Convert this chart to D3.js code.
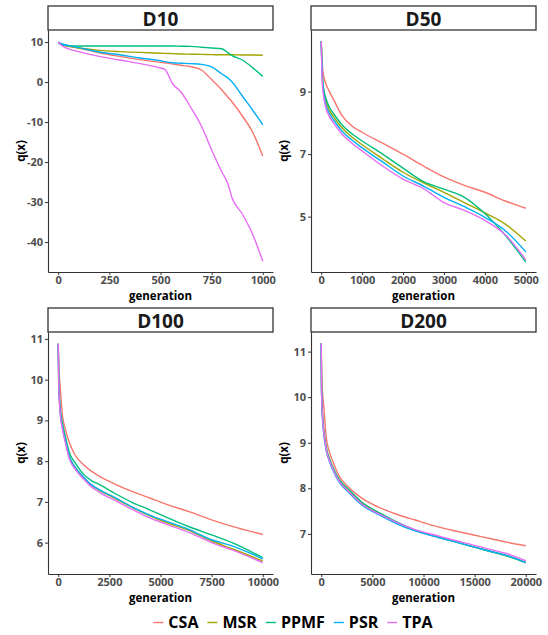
<!DOCTYPE html>
<html>
<head>
<meta charset="utf-8">
<script src="https://cdn.jsdelivr.net/npm/d3@7"></script>
<style>
  body { margin: 0; background: #fff; }
  text { font-family: 'Open Sans', sans-serif; }
</style>
</head>
<body>
<svg id="chart" width="548" height="635"></svg>
<script>
const methods = ['CSA', 'MSR', 'PPMF', 'PSR', 'TPA']
const colors = ['#F8766D', '#A3A500', '#00BF7D', '#00B0F6', '#E76BF3']

// D10
const d10Gen = [0, 20, 50, 100, 200, 300, 400, 500, 520, 560, 600, 650, 700, 750, 800, 830, 850, 900, 950, 1000]
const d10CSA = [9.8, 9.4, 9.0, 8.5, 7.3, 6.4, 5.6, 4.9, 4.8, 4.5, 4.2, 3.8, 3.0, 0.6, -2.0, -3.8, -5.0, -8.5, -12.5, -18.5]
const d10MSR = [9.8, 9.3, 8.9, 8.5, 7.9, 7.6, 7.4, 7.2, 7.15, 7.1, 7.0, 6.95, 6.9, 6.85, 6.8, 6.8, 6.8, 6.75, 6.75, 6.7]
const d10PPMF = [9.8, 9.3, 9.1, 9.0, 9.0, 9.0, 9.0, 9.0, 9.0, 9.0, 8.95, 8.9, 8.7, 8.5, 8.3, 7.3, 6.6, 5.5, 3.6, 1.4]
const d10PSR = [10, 9.5, 9.1, 8.6, 7.5, 6.8, 6.0, 5.3, 5.1, 4.8, 4.7, 4.6, 4.4, 3.8, 2.0, 1.0, 0, -3.5, -7.0, -10.7]
const d10TPA = [10, 9.0, 8.3, 7.6, 6.4, 5.5, 4.6, 3.5, 3.2, -0.5, -2.5, -6.5, -11, -17, -22.5, -25.5, -29, -33, -38, -44.8]

// D50
const d50Gen = [0, 30, 60, 100, 200, 300, 500, 750, 1000, 1500, 2000, 2500, 3000, 3500, 4000, 4500, 5000]
const d50CSA = [10.6, 9.8, 9.5, 9.3, 9.0, 8.75, 8.25, 7.9, 7.7, 7.35, 7.0, 6.62, 6.27, 6.0, 5.78, 5.5, 5.27]
const d50MSR = [10.6, 9.4, 9.0, 8.75, 8.4, 8.2, 7.85, 7.55, 7.3, 6.85, 6.42, 6.08, 5.78, 5.45, 5.12, 4.76, 4.22]
const d50PPMF = [10.6, 9.5, 9.1, 8.85, 8.5, 8.3, 7.95, 7.65, 7.42, 7.0, 6.55, 6.12, 5.88, 5.62, 5.1, 4.4, 3.55]
const d50PSR = [10.6, 9.3, 8.95, 8.65, 8.3, 8.1, 7.75, 7.45, 7.2, 6.75, 6.3, 5.98, 5.62, 5.32, 4.98, 4.55, 3.88]
const d50TPA = [10.6, 9.2, 8.85, 8.55, 8.2, 8.0, 7.65, 7.35, 7.1, 6.62, 6.2, 5.9, 5.45, 5.2, 4.88, 4.42, 3.62]

// D100
const d100Gen = [0, 25, 100, 200, 350, 550, 800, 1200, 1600, 2000, 2800, 3600, 4500, 5300, 6400, 7500, 8500, 10000]
const d100CSA = [10.88, 10.4, 9.8, 9.15, 8.78, 8.45, 8.17, 7.93, 7.76, 7.63, 7.43, 7.26, 7.09, 6.94, 6.76, 6.56, 6.4, 6.2]
const d100MSR = [10.88, 9.9, 9.2, 8.85, 8.5, 8.1, 7.87, 7.62, 7.42, 7.29, 7.08, 6.87, 6.65, 6.49, 6.3, 6.04, 5.85, 5.55]
const d100PPMF = [10.88, 10.0, 9.3, 8.95, 8.6, 8.2, 7.98, 7.7, 7.53, 7.43, 7.2, 6.99, 6.8, 6.62, 6.39, 6.19, 6.0, 5.63]
const d100PSR = [10.88, 9.9, 9.2, 8.85, 8.5, 8.1, 7.87, 7.63, 7.43, 7.3, 7.1, 6.88, 6.67, 6.52, 6.32, 6.07, 5.92, 5.6]
const d100TPA = [10.88, 9.85, 9.15, 8.8, 8.45, 8.05, 7.82, 7.58, 7.38, 7.24, 7.03, 6.82, 6.6, 6.45, 6.25, 6.0, 5.82, 5.51]

// D200
const d200Gen = [0, 30, 100, 250, 500, 800, 1200, 1800, 2600, 4000, 5900, 7500, 9100, 11500, 13000, 14800, 16500, 18100, 20000]
const d200CSA = [11.18, 10.7, 10.2, 9.8, 9.1, 8.8, 8.55, 8.25, 8.04, 7.78, 7.56, 7.42, 7.31, 7.15, 7.07, 6.98, 6.9, 6.82, 6.74]
const d200MSR = [11.18, 10.2, 9.7, 9.26, 8.87, 8.64, 8.42, 8.17, 7.98, 7.68, 7.43, 7.24, 7.09, 6.93, 6.84, 6.72, 6.62, 6.52, 6.37]
const d200PPMF = [11.18, 10.2, 9.72, 9.27, 8.88, 8.65, 8.43, 8.18, 7.99, 7.69, 7.44, 7.25, 7.09, 6.92, 6.83, 6.72, 6.62, 6.52, 6.37]
const d200PSR = [11.18, 10.15, 9.65, 9.2, 8.82, 8.59, 8.37, 8.12, 7.93, 7.63, 7.39, 7.21, 7.07, 6.92, 6.83, 6.72, 6.62, 6.53, 6.37]
const d200TPA = [11.18, 10.15, 9.65, 9.22, 8.84, 8.61, 8.39, 8.14, 7.95, 7.65, 7.41, 7.24, 7.1, 6.95, 6.86, 6.76, 6.66, 6.57, 6.41]

const panels = [
  {title: 'D10', gens: d10Gen, vals: [d10CSA, d10MSR, d10PPMF, d10PSR, d10TPA],
   xDomain: [-50, 1050], yDomain: [-47.5, 13], xTicks: [0, 250, 500, 750, 1000], yTicks: [-40, -30, -20, -10, 0, 10], col: 0, row: 0},
  {title: 'D50', gens: d50Gen, vals: [d50CSA, d50MSR, d50PPMF, d50PSR, d50TPA],
   xDomain: [-250, 5250], yDomain: [3.23, 10.97], xTicks: [0, 1000, 2000, 3000, 4000, 5000], yTicks: [5, 7, 9], col: 1, row: 0},
  {title: 'D100', gens: d100Gen, vals: [d100CSA, d100MSR, d100PPMF, d100PSR, d100TPA],
   xDomain: [-500, 10500], yDomain: [5.23, 11.17], xTicks: [0, 2500, 5000, 7500, 10000], yTicks: [6, 7, 8, 9, 10, 11], col: 0, row: 1},
  {title: 'D200', gens: d200Gen, vals: [d200CSA, d200MSR, d200PPMF, d200PSR, d200TPA],
   xDomain: [-1000, 21000], yDomain: [6.12, 11.43], xTicks: [0, 5000, 10000, 15000, 20000], yTicks: [7, 8, 9, 10, 11], col: 1, row: 1}
]

const svg = d3.select('#chart')
svg.append('rect').attr('width', 548).attr('height', 635).attr('fill', '#fff')

const colLeft = [48, 311]
const rowTop = [6, 308]
const pw = 225, stripH = 24, ph = 242

panels.forEach(p => {
  const left = colLeft[p.col]
  const top = rowTop[p.row] + stripH
  const x = d3.scaleLinear().domain(p.xDomain).range([left, left + pw])
  const y = d3.scaleLinear().domain(p.yDomain).range([top + ph, top])
  const g = svg.append('g')

  // strip
  g.append('rect')
    .attr('x', left).attr('y', rowTop[p.row])
    .attr('width', pw).attr('height', stripH)
    .attr('fill', '#fff').attr('stroke', '#333').attr('stroke-width', 1.3)
  g.append('text')
    .attr('x', left + pw / 2).attr('y', rowTop[p.row] + 19.5)
    .attr('text-anchor', 'middle')
    .attr('font-size', 19).attr('font-weight', 'bold').attr('fill', '#1a1a1a')
    .text(p.title)

  // lines
  const line = d3.line()
    .x((d, i) => x(p.gens[i]))
    .y(d => y(d))
    .curve(d3.curveMonotoneX)
  p.vals.forEach((v, k) => {
    g.append('path')
      .attr('d', line(v))
      .attr('fill', 'none')
      .attr('stroke', colors[k])
      .attr('stroke-width', 1.4)
  })

  // axes
  const fmt = d => String(d)
  const xAxis = d3.axisBottom(x).tickValues(p.xTicks).tickFormat(fmt).tickSize(3).tickSizeOuter(0).tickPadding(1)
  const yAxis = d3.axisLeft(y).tickValues(p.yTicks).tickFormat(fmt).tickSize(3).tickSizeOuter(0).tickPadding(2)
  const gx = g.append('g').attr('transform', `translate(0, ${top + ph})`).call(xAxis)
  const gy = g.append('g').attr('transform', `translate(${left}, 0)`).call(yAxis)
  ;[gx, gy].forEach(a => {
    a.select('.domain').attr('stroke', '#333').attr('stroke-width', 1.1)
    a.selectAll('.tick line').attr('stroke', '#333')
    a.selectAll('.tick text')
      .attr('font-size', 11).attr('font-weight', 'bold').attr('fill', '#4d4d4d')
      .attr('font-family', "'Open Sans', sans-serif")
  })

  // axis titles
  g.append('text')
    .attr('x', left + pw / 2).attr('y', top + ph + 27.5)
    .attr('text-anchor', 'middle')
    .attr('font-size', 11.5).attr('font-weight', 'bold').attr('fill', '#000')
    .text('generation')
  g.append('text')
    .attr('transform', `translate(${left - 23}, ${top + ph / 2}) rotate(-90)`)
    .attr('text-anchor', 'middle')
    .attr('font-size', 11.5).attr('font-weight', 'bold').attr('fill', '#000')
    .text('q(x)')
})

// legend
const legend = svg.append('g')
let cx = 0
methods.forEach((m, i) => {
  const item = legend.append('g').attr('transform', `translate(${cx}, 0)`)
  item.append('line')
    .attr('x1', 0).attr('x2', 10).attr('y1', 0).attr('y2', 0)
    .attr('stroke', colors[i]).attr('stroke-width', 1.4)
  const t = item.append('text')
    .attr('x', 15).attr('y', 5.8)
    .attr('font-size', 16).attr('font-weight', 'bold').attr('fill', '#000')
    .text(m)
  cx += 15 + t.node().getComputedTextLength() + 9
})
const legendW = cx - 9
legend.attr('transform', `translate(${293 - legendW / 2}, 622.5)`)
</script>
</body>
</html>
